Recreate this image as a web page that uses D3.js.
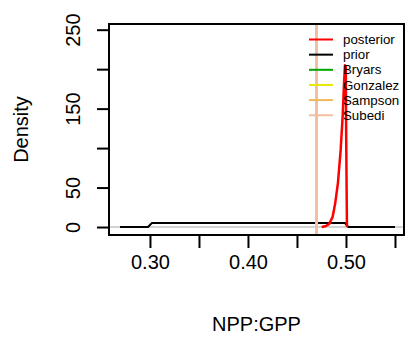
<!DOCTYPE html>
<html><head><meta charset="utf-8">
<script src="https://cdn.jsdelivr.net/npm/d3@7"></script>
<style>body{margin:0;background:#fff}svg{display:block}text{font-family:"Liberation Sans",Arial,Helvetica,sans-serif;fill:#000}</style>
</head><body>
<script>
// data
const priorX = [0.2694, 0.2980, 0.3020, 0.4990, 0.5024, 0.5500];
const priorY = [0, 0, 5, 5, 0, 0];
const posteriorX = [0.4752, 0.4790, 0.4830, 0.4864, 0.4890, 0.4918, 0.4946, 0.4966, 0.4980, 0.4990, 0.4998, 0.5003, 0.5010];
const posteriorY = [0, 1, 4, 13, 30, 56, 98, 140, 182, 205, 203, 100, 0];
const refNames = ["Bryars", "Gonzalez", "Sampson", "Subedi"];
const refValues = [0.4694, 0.4694, 0.4694, 0.4694];
const legendNames = ["posterior", "prior", "Bryars", "Gonzalez", "Sampson", "Subedi"];
const legendColors = ["#FF0000", "#000000", "#00A600", "#E8E800", "#F0B65A", "#F3BFA0"];
const xTicks = [0.30, 0.35, 0.40, 0.45, 0.50, 0.55];
const xTickLabels = ["0.30", "", "0.40", "", "0.50", ""];
const yTicks = [0, 50, 100, 150, 200, 250];
const yTickLabels = ["0", "50", "", "150", "", "250"];

const W = 406, H = 338;
const L = 109, R = 404, T = 24, B = 235;
const svg = d3.select("body").append("svg").attr("width", W).attr("height", H);
const x = d3.scaleLinear().domain([0.2582, 0.5592]).range([L, R]);
const y = d3.scaleLinear().domain([-10.1, 257.2]).range([B, T]);

const g = svg.append("g");
// baseline gray
g.append("line").attr("x1", L).attr("x2", R).attr("y1", y(0)).attr("y2", y(0))
  .attr("stroke", "#D3D3D3").attr("stroke-width", 2);

const line = d3.line().x(d => x(d[0])).y(d => y(d[1]));
g.append("path").datum(priorX.map((v, i) => [v, priorY[i]])).attr("d", line)
  .attr("fill", "none").attr("stroke", "#000").attr("stroke-width", 2);
g.append("path").datum(posteriorX.map((v, i) => [v, posteriorY[i]])).attr("d", line)
  .attr("fill", "none").attr("stroke", "#FF0000").attr("stroke-width", 2.5).attr("stroke-linejoin", "round");

// reference vertical lines
refValues.forEach((v, i) => {
  const px = Math.round(x(v)) + 0.5;
  g.append("line").attr("x1", px).attr("x2", px).attr("y1", T).attr("y2", B)
    .attr("stroke", legendColors[i + 2]).attr("stroke-width", 3)
    .attr("shape-rendering", "crispEdges");
});

// box
svg.append("rect").attr("x", L).attr("y", T).attr("width", R - L).attr("height", B - T)
  .attr("fill", "none").attr("stroke", "#000").attr("stroke-width", 2);

// x axis
const xa = svg.append("g").attr("transform", `translate(0,${B})`)
  .call(d3.axisBottom(x).tickValues(xTicks).tickSize(13).tickFormat((d, i) => xTickLabels[i]));
xa.select(".domain").remove();
xa.selectAll("line").attr("stroke", "#000").attr("stroke-width", 2);
xa.selectAll("text").attr("font-size", 20).attr("font-family", "Liberation Sans, Arial, sans-serif").attr("y", 34).attr("dy", 0).attr("fill", "#000");

// y axis
const ya = svg.append("g").attr("transform", `translate(${L},0)`)
  .call(d3.axisLeft(y).tickValues(yTicks).tickSize(12).tickFormat((d, i) => yTickLabels[i]));
ya.select(".domain").remove();
ya.selectAll("line").attr("stroke", "#000").attr("stroke-width", 2);
ya.selectAll("text").attr("font-size", 20).attr("font-family", "Liberation Sans, Arial, sans-serif")
  .attr("x", null).attr("dy", null).attr("text-anchor", "middle")
  .attr("transform", `translate(${80 - L},0) rotate(-90)`).attr("y", 0).attr("fill", "#000");

// axis titles
svg.append("text").attr("x", (L + R) / 2).attr("y", 331).attr("text-anchor", "middle")
  .attr("font-size", 20).text("NPP:GPP");
svg.append("text").attr("transform", `translate(28,${(T + B) / 2}) rotate(-90)`)
  .attr("text-anchor", "middle").attr("font-size", 20).text("Density");

// legend
const leg = svg.append("g");
legendNames.forEach((n, i) => {
  const yy = 39.5 + 15.15 * i;
  leg.append("line").attr("x1", 309).attr("x2", 333).attr("y1", yy).attr("y2", yy)
    .attr("stroke", legendColors[i]).attr("stroke-width", 2);
  leg.append("text").attr("x", 343).attr("y", yy + 4.6).attr("font-size", 13.3).text(n);
});
</script>
</body></html>
